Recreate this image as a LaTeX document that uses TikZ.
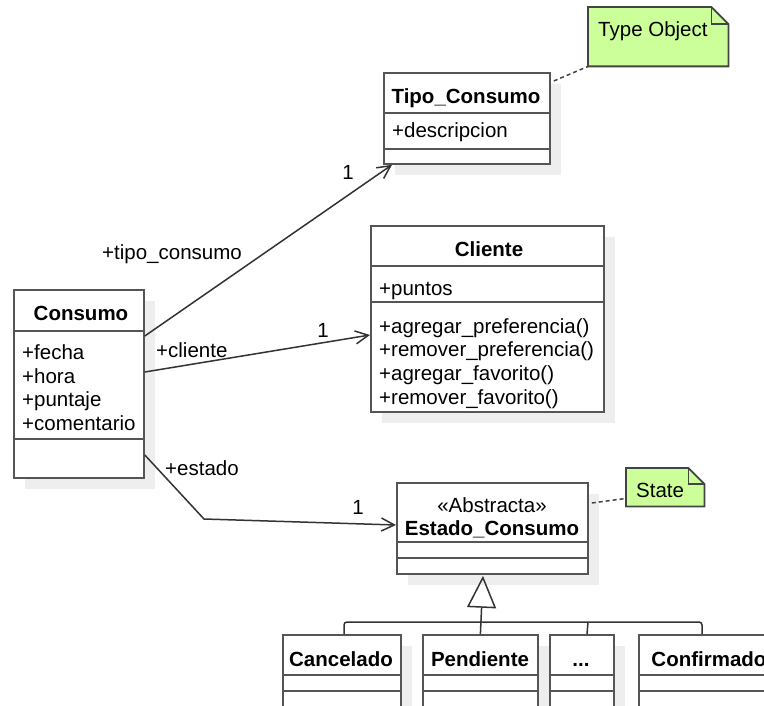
\documentclass[tikz,border=0pt]{standalone}
\usepackage{fontspec}
\setmainfont{Liberation Sans}
\usetikzlibrary{shadows,arrows.meta,calc}
\definecolor{boxline}{HTML}{555555}
\definecolor{noteline}{HTML}{444444}
\definecolor{notefill}{HTML}{CCFF99}
\definecolor{shadowgray}{HTML}{EEEEEE}
\definecolor{wire}{HTML}{333333}

\begin{document}
\begin{tikzpicture}[x=1pt,y=-1pt,
  font=\fontsize{20.5}{24}\selectfont,
  umlbox/.style={draw=boxline, line width=1.8pt, fill=white, anchor=north west,
    inner sep=0pt,
    drop shadow={shadow xshift=11pt, shadow yshift=-11pt, fill=shadowgray, opacity=1}},
  sep/.style={draw=boxline, line width=1.8pt},
  cname/.style={font=\fontsize{20.5}{24}\selectfont\bfseries, anchor=base, inner sep=0pt},
  ctext/.style={anchor=base, inner sep=0pt},
  member/.style={anchor=base west, inner sep=0pt},
  notearea/.style={anchor=north west, inner sep=0pt},
  noteshape/.style={draw=noteline, line width=1.8pt, fill=notefill, line join=miter},
  notelink/.style={draw=noteline, line width=1.5pt, dash pattern=on 4pt off 3pt},
  assoc/.style={draw=wire, line width=1.5pt,
    -{Straight Barb[length=13pt,width=13pt,line width=1.5pt]}},
  gen/.style={draw=wire, line width=1.5pt,
    -{Triangle[open,length=32pt,width=29pt,line width=1.5pt]}},
  bus/.style={draw=wire, line width=1.5pt},
]
\useasboundingbox (0,0) rectangle (764,706);
\fill[white] (0,0) rectangle (764,706);
\clip (0,0) rectangle (764,706);

% ---------- class boxes ----------
\node[umlbox, minimum width=166pt, minimum height=91pt]  (tipo)       at (383,72)  {};
\node[umlbox, minimum width=130pt, minimum height=188pt] (consumo)    at (13,289)  {};
\node[umlbox, minimum width=233pt, minimum height=186pt] (cliente)    at (370,225) {};
\node[umlbox, minimum width=191pt, minimum height=91pt]  (estado)     at (396,482) {};
\node[umlbox, minimum width=118pt, minimum height=90pt]  (cancelado)  at (282,634) {};
\node[umlbox, minimum width=115pt, minimum height=90pt]  (pendiente)  at (422,634) {};
\node[umlbox, minimum width=64pt,  minimum height=90pt]  (dots)       at (549,634) {};
\node[umlbox, minimum width=150pt, minimum height=90pt]  (confirmado) at (638,634) {};

% compartment separators
\foreach \n/\a/\b in {tipo/41/77, consumo/42/150, cliente/41/77, estado/60/76,
                      cancelado/41/57, pendiente/41/57, dots/41/57, confirmado/41/57}{
  \draw[sep] ($(\n.north west)+(0,\a)$) -- ($(\n.north east)+(0,\a)$);
  \draw[sep] ($(\n.north west)+(0,\b)$) -- ($(\n.north east)+(0,\b)$);
}

% class names
\node[cname] (tipoName)    at (466,104) {Tipo\_Consumo};
\node[cname] (consumoName) at (81,320)  {Consumo};
\node[cname] (clienteName) at (489,257) {Cliente};
\node[ctext] (estadoSt)    at (492,512) {«Abstracta»};
\node[cname] (estadoName)  at (492,535) {Estado\_Consumo};
\node[cname] (cancName)    at (341,666) {Cancelado};
\node[cname] (pendName)    at (480,666) {Pendiente};
\node[cname] (dotsName)    at (581,666) {...};
\node[cname] (confName)    at (709,666) {Confirmado};

% members
\node[member] (tipoA1) at (392,138) {+descripcion};
\node[member] (consA1) at (22,359) {+fecha};
\node[member] (consA2) at (22,383) {+hora};
\node[member] (consA3) at (22,406) {+puntaje};
\node[member] (consA4) at (22,430) {+comentario};
\node[member] (cliA1)  at (379,295) {+puntos};
\node[member] (cliM1)  at (379,333) {+agregar\_preferencia()};
\node[member] (cliM2)  at (379,356) {+remover\_preferencia()};
\node[member] (cliM3)  at (379,380) {+agregar\_favorito()};
\node[member] (cliM4)  at (379,404) {+remover\_favorito()};

% ---------- notes ----------
\node[notearea, minimum width=140pt, minimum height=59pt] (typeNote) at (588,7) {};
\draw[noteshape] (typeNote.north west) -- ($(typeNote.north east)+(-17,0)$)
  -- ($(typeNote.north east)+(0,17)$) -- (typeNote.south east)
  -- (typeNote.south west) -- cycle;
\draw[noteshape, fill=none] ($(typeNote.north east)+(-17,0)$)
  -- ($(typeNote.north east)+(-17,17)$) -- ($(typeNote.north east)+(0,17)$);
\node[member] (typeNoteText) at (598,37) {Type Object};

\node[notearea, minimum width=78pt, minimum height=38pt] (stateNote) at (626,468) {};
\draw[noteshape] (stateNote.north west) -- ($(stateNote.north east)+(-16,0)$)
  -- ($(stateNote.north east)+(0,16)$) -- (stateNote.south east)
  -- (stateNote.south west) -- cycle;
\draw[noteshape, fill=none] ($(stateNote.north east)+(-16,0)$)
  -- ($(stateNote.north east)+(-16,16)$) -- ($(stateNote.north east)+(0,16)$);
\node[member] (stateNoteText) at (636,497) {State};

\draw[notelink] ($(tipo.north east)+(3,9)$) -- (typeNote.south west);
\draw[notelink] ($(estado.north east)+(3,21)$) -- ($(stateNote.south west)+(0,-8)$);

% ---------- associations ----------
\draw[assoc] ($(consumo.north east)+(0,47)$) -- ($(tipo.south west)+(9,0)$);
\draw[assoc] ($(consumo.north east)+(0,83)$) -- ($(cliente.north west)+(0,110)$);
\coordinate (bend) at (204,519);
\draw[assoc] ($(consumo.north east)+(0,166)$) -- (bend) -- ($(estado.north west)+(0,43)$);

\node[member] (roleTipo)   at (102,259) {+tipo\_consumo};
\node[ctext]  (multTipo)   at (348,180) {1};
\node[member] (roleCli)    at (156,357) {+cliente};
\node[ctext]  (multCli)    at (323,337) {1};
\node[member] (roleEst)    at (165,475) {+estado};
\node[ctext]  (multEst)    at (358,514) {1};

% ---------- generalization ----------
\draw[bus, rounded corners=3pt] ($(cancelado.north west)+(62,0)$)
  |- ($(confirmado.north west)+(64,-12)$) -- ($(confirmado.north west)+(64,0)$);
\draw[bus] ($(dots.north west)+(38,0)$) -- ++(1,-12);
\draw[gen] (pendiente.north) -- ($(estado.south west)+(87,1)$);
\end{tikzpicture}
\end{document}
